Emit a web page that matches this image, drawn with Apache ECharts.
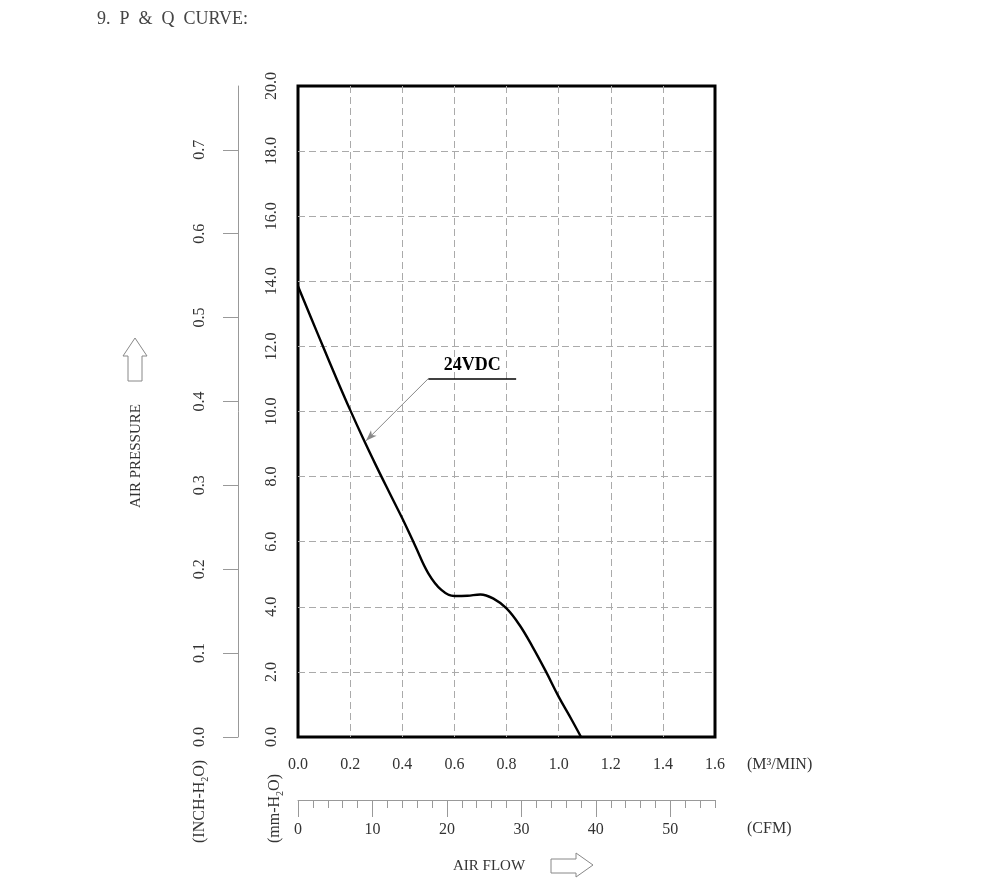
<!DOCTYPE html>
<html>
<head>
<meta charset="utf-8">
<title>P & Q CURVE</title>
<script src="https://cdn.jsdelivr.net/npm/echarts@6.0.0/dist/echarts.min.js"></script>
<style>
  html,body{margin:0;padding:0;background:#fff;}
  #chart{width:1000px;height:896px;}
</style>
</head>
<body>
<div id="chart"></div>
<script>
// 风量 (M3/MIN) 与 静压 (mm-H2O)
var flowM3 = [0, 0.05, 0.1, 0.15, 0.2, 0.25, 0.3, 0.35, 0.4, 0.45, 0.5, 0.55, 0.6, 0.65, 0.7, 0.75, 0.8, 0.85, 0.9, 0.95, 1.0, 1.05, 1.086];
var pressMm = [13.85, 12.88, 11.92, 10.97, 10.05, 9.17, 8.33, 7.52, 6.72, 5.87, 5.03, 4.52, 4.33, 4.34, 4.38, 4.25, 3.95, 3.44, 2.77, 2.03, 1.24, 0.53, 0];

// 刻度
var inchTicks = [0, 0.1, 0.2, 0.3, 0.4, 0.5, 0.6, 0.7];
var cfmMajor = [0, 10, 20, 30, 40, 50];
var seriesName = '24VDC';
// 标注线：横线两端 和 箭头指向点 (数据坐标)
var noteLeft = [0.50, 11.01];
var noteRight = [0.837, 11.01];
var noteTip = [0.261, 9.10];

var FONT = '"Liberation Serif", "DejaVu Serif", serif';
var TXT = '#333';

var data = [];
for (var i = 0; i < flowM3.length; i++) {
  data.push([flowM3[i], pressMm[i]]);
}

var dashed = {show: true, showMinLine: false, showMaxLine: false,
  lineStyle: {color: '#aaa', type: [7, 4], width: 1}};

var option = {
  animation: false,
  backgroundColor: '#fff',
  grid: {
    left: 298, top: 86, width: 417, height: 651,
    show: true, borderColor: '#000', borderWidth: 3, backgroundColor: 'transparent'
  },
  xAxis: [
    {
      type: 'value', min: 0, max: 1.6, interval: 0.2,
      axisLine: {show: false, onZero: false}, axisTick: {show: false},
      axisLabel: {margin: 20, fontFamily: FONT, fontSize: 16, color: TXT,
        formatter: function(v){ return v.toFixed(1); }},
      splitLine: dashed
    },
    {
      // CFM 小刻度
      type: 'value', min: 0, max: 56, interval: 2, position: 'bottom', offset: 63,
      axisLine: {show: true, onZero: false, lineStyle: {color: '#999', width: 1}},
      axisTick: {show: true, length: 8, lineStyle: {color: '#999'}},
      axisLabel: {show: false}, splitLine: {show: false}
    },
    {
      // CFM 大刻度
      type: 'value', min: 0, max: 56, interval: 10, position: 'bottom', offset: 63,
      axisLine: {show: false, onZero: false},
      axisTick: {show: true, length: 17, customValues: cfmMajor, lineStyle: {color: '#999'}},
      axisLabel: {margin: 22, customValues: cfmMajor, fontFamily: FONT, fontSize: 16, color: TXT},
      splitLine: {show: false}
    }
  ],
  yAxis: [
    {
      type: 'value', min: 0, max: 20, interval: 2,
      axisLine: {show: false, onZero: false}, axisTick: {show: false},
      axisLabel: {rotate: 90, margin: 18, fontFamily: FONT, fontSize: 16, color: TXT,
        formatter: function(v){ return v.toFixed(1); }},
      splitLine: dashed
    },
    {
      // INCH-H2O
      type: 'value', min: 0, max: 0.776, interval: 0.1, position: 'left', offset: 60,
      axisLine: {show: true, onZero: false, lineStyle: {color: '#999', width: 1}},
      axisTick: {show: true, length: 15, customValues: inchTicks, lineStyle: {color: '#999'}},
      axisLabel: {rotate: 90, margin: 30, customValues: inchTicks, fontFamily: FONT, fontSize: 16, color: TXT,
        formatter: function(v){ return v.toFixed(1); }},
      splitLine: {show: false}
    }
  ],
  series: [
    {
      name: seriesName,
      type: 'line',
      xAxisIndex: 0, yAxisIndex: 0,
      data: data,
      smooth: 0.4,
      showSymbol: false,
      lineStyle: {color: '#000', width: 2.4},
      markLine: {
        silent: true,
        animation: false,
        data: [
          [
            {coord: noteLeft, symbol: 'none', lineStyle: {color: '#000', width: 1.5, type: 'solid'},
              label: {show: true, formatter: seriesName, position: 'insideMiddleTop', distance: 4,
                fontFamily: FONT, fontSize: 18, fontWeight: 'bold', color: '#000'}},
            {coord: noteRight, symbol: 'none'}
          ],
          [
            {coord: noteLeft, symbol: 'none', lineStyle: {color: '#888', width: 1, type: 'solid'},
              label: {show: false}},
            {coord: noteTip, symbol: 'arrow', symbolSize: [6, 11]}
          ]
        ]
      }
    }
  ],
  graphic: [
    {type: 'text', x: 97, y: 19, style: {text: '9.  P  &  Q  CURVE:', fontFamily: FONT, fontSize: 18,
      fill: '#444', textVerticalAlign: 'middle'}},
    {type: 'text', x: 747, y: 765, style: {text: '(M³/MIN)', fontFamily: FONT, fontSize: 16,
      fill: TXT, textVerticalAlign: 'middle'}},
    {type: 'text', x: 747, y: 829, style: {text: '(CFM)', fontFamily: FONT, fontSize: 16,
      fill: TXT, textVerticalAlign: 'middle'}},
    {type: 'text', x: 489, y: 866, style: {text: 'AIR FLOW', fontFamily: FONT, fontSize: 15,
      fill: TXT, textAlign: 'center', textVerticalAlign: 'middle'}},
    {type: 'text', x: 136, y: 456, rotation: Math.PI / 2, style: {text: 'AIR PRESSURE', fontFamily: FONT,
      fontSize: 15, fill: TXT, textAlign: 'center', textVerticalAlign: 'middle'}},
    {type: 'text', x: 200, y: 843, rotation: Math.PI / 2, style: {
      text: '{a|(INCH-H}{s|2}{a|O)}', textAlign: 'left', textVerticalAlign: 'middle',
      rich: {a: {fontFamily: FONT, fontSize: 16, fill: TXT, lineHeight: 20},
             s: {fontFamily: FONT, fontSize: 10, fill: TXT, lineHeight: 20, verticalAlign: 'bottom'}}}},
    {type: 'text', x: 275, y: 843, rotation: Math.PI / 2, style: {
      text: '{a|(mm-H}{s|2}{a|O)}', textAlign: 'left', textVerticalAlign: 'middle',
      rich: {a: {fontFamily: FONT, fontSize: 16, fill: TXT, lineHeight: 20},
             s: {fontFamily: FONT, fontSize: 10, fill: TXT, lineHeight: 20, verticalAlign: 'bottom'}}}},
    // 向上箭头
    {type: 'polygon', shape: {points: [[135, 338], [147, 356], [142, 356], [142, 381], [128, 381], [128, 356], [123, 356]]},
      style: {fill: '#fff', stroke: '#888', lineWidth: 1}},
    // 向右箭头
    {type: 'polygon', shape: {points: [[551, 859], [576, 859], [576, 853], [593, 865], [576, 877], [576, 873], [551, 873]]},
      style: {fill: '#fff', stroke: '#888', lineWidth: 1}}
  ]
};

var chart = echarts.init(document.getElementById('chart'));
chart.setOption(option);
</script>
</body>
</html>
